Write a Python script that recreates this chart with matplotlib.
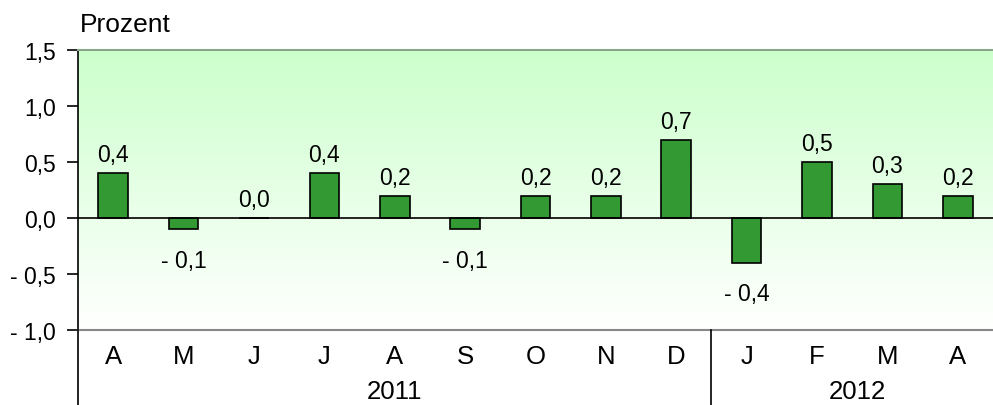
import matplotlib
matplotlib.use("Agg")
import matplotlib.pyplot as plt
import numpy as np
from matplotlib.colors import LinearSegmentedColormap
from matplotlib.lines import Line2D

months = ["A", "M", "J", "J", "A", "S", "O", "N", "D", "J", "F", "M", "A"]
values = [0.4, -0.1, 0.0, 0.4, 0.2, -0.1, 0.2, 0.2, 0.7, -0.4, 0.5, 0.3, 0.2]
years = ["2011", "2012"]
year_counts = [9, 4]
yticks = [-1.0, -0.5, 0.0, 0.5, 1.0, 1.5]
ylabel = "Prozent"

plt.rcParams['font.family'] = ['Liberation Sans', 'DejaVu Sans']

def fmt(v):
    s = f"{abs(v):.1f}".replace(".", ",")
    return ("- " + s) if v < 0 else s

FS_TICK = 16.5
FS_VAL = 16.5
FS_CAT = 18.5
FS_TITLE = 19

fig = plt.figure(figsize=(9.93, 4.06), dpi=100)
ax = fig.add_axes([78/993, 75/406, 1 - 78/993, 280/406])
n = len(months)
x = np.arange(n)
ax.set_xlim(-0.5, n - 0.5)
ax.set_ylim(-1.0, 1.5)

cmap = LinearSegmentedColormap.from_list("g", ["#ffffff", "#ccffcc"])
grad = np.linspace(0, 1, 256).reshape(-1, 1)
ax.imshow(grad, extent=(-0.5, n - 0.5, -1.0, 1.5), origin="lower", aspect="auto",
          cmap=cmap, zorder=0)

ax.bar(x, values, width=0.42, color="#339933", edgecolor="black", linewidth=1.2, zorder=3)
ax.axhline(0, color="black", linewidth=1.2, zorder=4)

for xi, v in zip(x, values):
    if v < 0:
        ax.annotate(fmt(v), (xi, v), xytext=(0, -14), textcoords="offset points",
                    ha="center", va="top", fontsize=FS_VAL)
    else:
        ax.annotate(fmt(v), (xi, v), xytext=(0, 5), textcoords="offset points",
                    ha="center", va="bottom", fontsize=FS_VAL)

ax.set_yticks(yticks)
ax.set_yticklabels([fmt(t) for t in yticks], fontsize=FS_TICK)
ax.tick_params(axis="y", length=8, width=1.2, direction="out", pad=8)
ax.set_xticks(x)
ax.set_xticklabels(months, fontsize=FS_CAT)
ax.tick_params(axis="x", length=0, pad=10)

ax.spines["right"].set_visible(False)
ax.spines["top"].set_color("#8aa68a")
ax.spines["top"].set_linewidth(1.5)
ax.spines["bottom"].set_color("#888888")
ax.spines["bottom"].set_linewidth(1.5)
ax.spines["left"].set_linewidth(1.2)

# left spine extension and year separator
fig.add_artist(Line2D([78/993, 78/993], [0, 75/406], color="black", linewidth=1.2,
                      transform=fig.transFigure))
start = 0
for i, (yr, c) in enumerate(zip(years, year_counts)):
    left = start - 0.5
    right = start + c - 0.5
    if i > 0:
        ax.plot([left, left], [-1.0, -1.0 - 75/112], color="black", linewidth=1.2,
                clip_on=False, zorder=5)
    ax.text((left + right) / 2 + (0.08 if i > 0 else 0), -1.0 - 61/112, yr,
            ha="center", va="center", fontsize=FS_CAT)
    start += c

fig.text(80/993, 1 - 25/406, ylabel, ha="left", va="center", fontsize=FS_TITLE)

fig.savefig("out.png", dpi=100)
